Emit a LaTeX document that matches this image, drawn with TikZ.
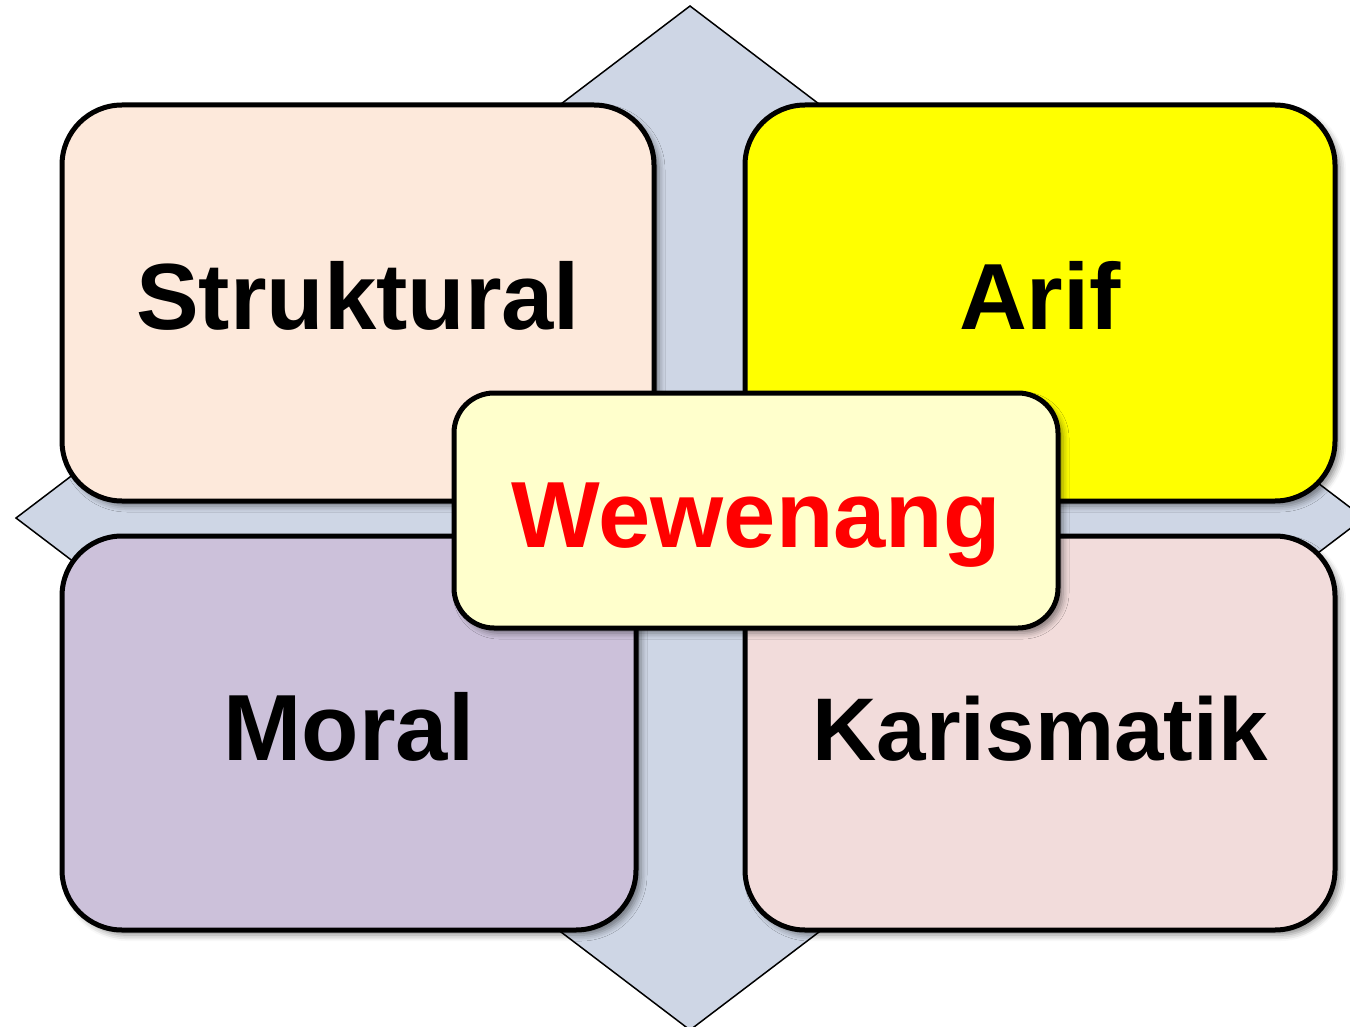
\documentclass[tikz,border=0pt]{standalone}
\usepackage{fontspec}
\setmainfont{Liberation Sans}
\usetikzlibrary{shadows.blur}
\definecolor{diamondfill}{HTML}{CED6E5}
\definecolor{strukfill}{HTML}{FDE9DB}
\definecolor{ariffill}{HTML}{FFFF00}
\definecolor{moralfill}{HTML}{CCC1DA}
\definecolor{karisfill}{HTML}{F2DCDB}
\definecolor{wewfill}{HTML}{FFFFCC}
\begin{document}
\begin{tikzpicture}[x=1pt,y=-1pt,
  card/.style={draw=black, line width=5pt, rounded corners=60pt, inner sep=0pt,
    blur shadow={shadow xshift=5pt, shadow yshift=-5pt, shadow blur radius=6pt, shadow opacity=45},
    font=\fontsize{94}{100}\selectfont\bfseries, text height=68pt, text depth=14pt},
  centercard/.style={card, rounded corners=40pt, text height=93pt, text depth=20pt}]
\useasboundingbox (0,0) rectangle (1350,1027);
\begin{scope}
\clip (0,0) rectangle (1350,1027);
\draw[fill=diamondfill, line width=1.5pt, line join=miter] (690,6) coordinate (dt) -- (1364,518) coordinate (dr) -- (690,1030) coordinate (db) -- (16,518) coordinate (dl) -- cycle;
\end{scope}
\node[card, fill=strukfill, minimum width=592pt, minimum height=396pt] (struk) at (358,303) {Struktural};
\node[card, fill=ariffill, minimum width=590pt, minimum height=396pt] (arif) at (1040,303) {Arif};
\node[card, fill=moralfill, minimum width=574pt, minimum height=394pt] (moral) at (349,733) {Moral};
\node[card, fill=karisfill, minimum width=590pt, minimum height=394pt, font=\fontsize{89}{100}\selectfont\bfseries] (karis) at (1040,733) {Karismatik};
\node[centercard, fill=wewfill, text=red, minimum width=604pt, minimum height=235pt] (wew) at (756,510.5) {Wewenang};
\end{tikzpicture}
\end{document}
